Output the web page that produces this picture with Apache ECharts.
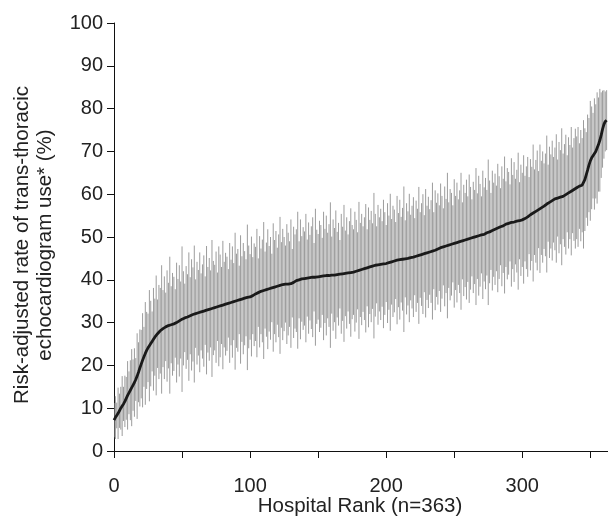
<!DOCTYPE html>
<html>
<head>
<meta charset="utf-8">
<script src="https://cdn.jsdelivr.net/npm/echarts@6/dist/echarts.min.js"></script>
<style>html,body{margin:0;padding:0;background:#fff;}#c{width:608px;height:520px;}</style>
</head>
<body>
<div id="c"></div>
<script>
// Point estimate (risk-adjusted rate, %) by hospital rank 0..362
var rate = [
7.2,7.8,8.3,8.8,9.4,10.0,10.5,11.0,11.6,12.3,13.0,13.6,14.2,14.8,15.4,16.0,16.7,17.5,18.4,19.4,
20.3,21.2,22.0,22.8,23.5,24.1,24.6,25.1,25.6,26.1,26.6,27.0,27.4,27.8,28.1,28.4,28.6,28.8,29.0,29.2,
29.3,29.4,29.5,29.6,29.7,29.8,30.0,30.2,30.4,30.6,30.8,31.0,31.1,31.2,31.3,31.4,31.6,31.8,31.9,32.0,
32.1,32.2,32.3,32.4,32.5,32.6,32.7,32.8,32.9,33.0,33.1,33.2,33.3,33.4,33.5,33.6,33.7,33.8,33.9,34.0,
34.1,34.2,34.3,34.4,34.5,34.6,34.7,34.8,34.9,35.0,35.1,35.2,35.3,35.4,35.5,35.6,35.7,35.8,35.9,36.0,
36.0,36.1,36.3,36.5,36.7,36.9,37.0,37.2,37.3,37.4,37.5,37.6,37.7,37.8,37.9,38.0,38.1,38.2,38.3,38.4,
38.5,38.6,38.7,38.8,38.9,39.0,39.0,39.0,39.0,39.0,39.1,39.2,39.4,39.6,39.8,39.9,40.0,40.1,40.2,40.3,
40.3,40.4,40.4,40.4,40.5,40.5,40.6,40.6,40.6,40.7,40.7,40.8,40.8,40.8,40.9,40.9,41.0,41.0,41.0,41.1,
41.1,41.1,41.1,41.2,41.2,41.3,41.3,41.4,41.4,41.5,41.5,41.6,41.6,41.7,41.7,41.8,41.8,41.9,42.0,42.1,
42.2,42.3,42.4,42.5,42.6,42.7,42.8,42.9,43.0,43.1,43.2,43.3,43.4,43.5,43.5,43.6,43.6,43.7,43.7,43.8,
43.8,43.9,44.0,44.1,44.2,44.3,44.4,44.5,44.6,44.6,44.7,44.7,44.8,44.8,44.9,44.9,45.0,45.1,45.2,45.3,
45.3,45.4,45.5,45.6,45.7,45.8,45.9,46.0,46.1,46.2,46.3,46.4,46.5,46.6,46.7,46.8,46.9,47.0,47.2,47.4,
47.5,47.6,47.7,47.8,47.9,48.0,48.1,48.2,48.3,48.4,48.5,48.6,48.7,48.8,48.9,49.0,49.1,49.2,49.3,49.4,
49.5,49.6,49.7,49.8,49.9,50.0,50.1,50.2,50.3,50.4,50.5,50.5,50.6,50.8,51.0,51.1,51.2,51.3,51.5,51.7,
51.8,52.0,52.1,52.2,52.4,52.5,52.6,52.8,53.0,53.1,53.2,53.3,53.4,53.5,53.5,53.6,53.7,53.7,53.8,53.9,
54.0,54.1,54.3,54.5,54.7,55.0,55.2,55.4,55.6,55.8,56.0,56.2,56.4,56.6,56.8,57.0,57.2,57.5,57.7,57.9,
58.1,58.3,58.5,58.7,58.9,59.0,59.1,59.2,59.3,59.4,59.5,59.7,59.9,60.1,60.3,60.5,60.7,60.9,61.1,61.3,
61.5,61.7,61.9,62.0,62.1,62.3,63.4,64.5,65.6,66.8,67.8,68.5,69.0,69.4,70.0,70.8,71.6,72.6,73.8,75.2,
76.3,77.0,77.3
];
// Half-width of each hospital's confidence interval (percentage points)
var halfWidth = [
4,5,3,6,4,5,7,4,6,5,8,5,7,9,6,8,5,10,7,9,
8,11,7,12,9,8,13,10,7,12,9,14,8,11,10,15,9,12,8,13,
10,16,9,12,11,8,14,10,13,9,17,11,8,12,10,15,9,13,11,16,
8,12,10,14,9,11,13,8,15,10,12,9,16,11,10,13,8,14,12,9,
15,10,12,11,8,14,10,13,9,16,11,12,8,15,10,13,11,9,17,12,
10,14,9,12,11,15,8,13,10,12,16,9,11,14,10,12,8,15,11,13,
9,12,16,10,13,11,9,14,12,10,15,8,13,11,12,16,9,14,10,12,
11,15,9,13,10,12,14,8,16,11,10,13,12,9,15,11,14,10,12,17,
9,13,11,15,10,12,8,14,11,16,10,13,9,12,15,11,10,14,12,9,
16,11,13,10,12,15,9,14,11,13,10,17,12,9,14,11,13,10,15,12,
9,14,11,16,10,13,12,9,15,11,14,10,12,17,9,13,11,15,10,12,
14,9,13,11,16,10,12,14,9,15,11,13,10,12,16,9,14,11,13,10,
15,12,9,14,11,17,10,13,12,9,15,11,14,10,12,16,9,13,11,14,
10,15,12,9,13,11,16,10,14,12,9,15,11,13,10,17,12,9,14,11,
13,10,15,12,9,14,11,16,10,13,12,9,15,11,14,10,12,16,9,13,
11,15,10,12,14,9,13,11,16,10,12,14,9,15,11,13,10,12,16,9,
13,11,14,10,12,15,9,13,11,16,10,12,14,9,13,11,15,10,12,14,
12,14,10,13,11,15,12,10,13,11,14,12,10,13,11,13,11,12,10,9,
8,7,7
];
var xTickLabels = [0, 100, 200, 300];
var yTickLabels = [0,10,20,30,40,50,60,70,80,90,100];

var FONT = "'Liberation Sans', Arial, sans-serif";
var lineData = [], barData = [];
for (var i = 0; i < rate.length; i++) {
  lineData.push([i, rate[i]]);
  barData.push([i, rate[i] - halfWidth[i], rate[i] + halfWidth[i]]);
}

var chart = echarts.init(document.getElementById('c'), null, {renderer: 'canvas'});
chart.setOption({
  animation: false,
  backgroundColor: '#fff',
  grid: {left: 114, right: 0, top: 23, bottom: 69, containLabel: false},
  xAxis: {
    type: 'value', min: 0, max: 363, interval: 50,
    axisLine: {show: true, lineStyle: {color: '#111', width: 1}},
    axisTick: {show: true, length: 7, lineStyle: {color: '#111'}},
    splitLine: {show: false},
    axisLabel: {
      fontSize: 20, color: '#222', fontFamily: FONT, margin: 25,
      showMaxLabel: false,
      formatter: function (v) { return xTickLabels.indexOf(v) >= 0 ? String(v) : ''; }
    }
  },
  yAxis: {
    type: 'value', min: 0, max: 100, interval: 10,
    axisLine: {show: true, lineStyle: {color: '#111', width: 1}},
    axisTick: {show: true, length: 7, lineStyle: {color: '#111'}},
    splitLine: {show: false},
    axisLabel: {
      fontSize: 20, color: '#222', fontFamily: FONT, margin: 11,
      formatter: function (v) { return yTickLabels.indexOf(v) >= 0 ? String(v) : ''; }
    }
  },
  graphic: [
    {
      type: 'text', x: 34, y: 245, rotation: Math.PI / 2,
      style: {
        text: 'Risk-adjusted rate of trans-thoracic\nechocardiogram use* (%)',
        fill: '#222', font: "20.5px 'Liberation Sans', Arial, sans-serif",
        align: 'center', verticalAlign: 'middle', lineHeight: 23
      }
    },
    {
      type: 'text', x: 360, y: 506,
      style: {
        text: 'Hospital Rank (n=363)',
        fill: '#222', font: "20.5px 'Liberation Sans', Arial, sans-serif",
        align: 'center', verticalAlign: 'middle'
      }
    }
  ],
  series: [
    {
      type: 'custom',
      data: barData,
      clip: true,
      renderItem: function (params, api) {
        var x = api.value(0);
        var p1 = api.coord([x, api.value(1)]);
        var p2 = api.coord([x, api.value(2)]);
        return {
          type: 'line',
          shape: {x1: p1[0], y1: p1[1], x2: p2[0], y2: p2[1]},
          style: {stroke: '#9c9c9c', lineWidth: 1}
        };
      },
      z: 1
    },
    {
      type: 'line',
      data: lineData,
      showSymbol: false,
      symbol: 'none',
      lineStyle: {color: '#1a1a1a', width: 2.8},
      z: 3
    }
  ]
});
</script>
</body>
</html>
